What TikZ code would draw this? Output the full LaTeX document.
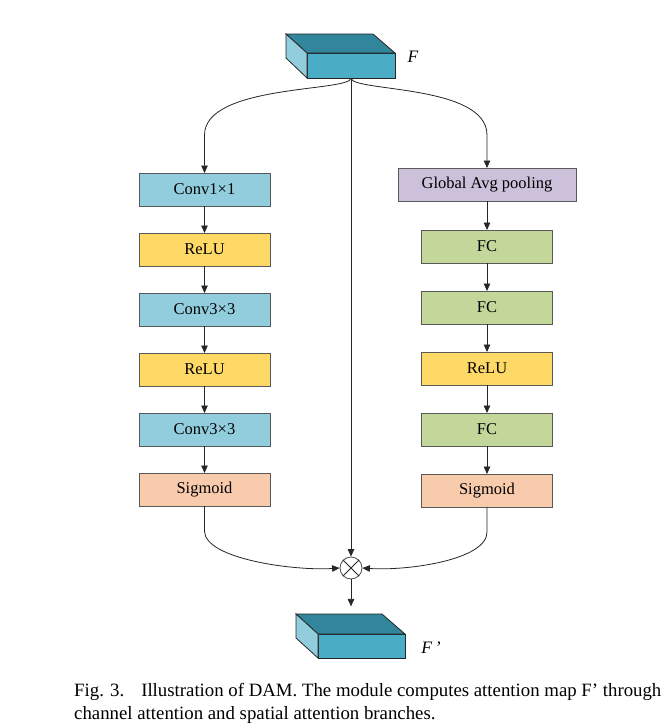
\documentclass[tikz,border=0pt]{standalone}
\usepackage{fontspec}
\setmainfont{Liberation Serif}
\usetikzlibrary{arrows.meta,positioning,calc}
\definecolor{convblue}{RGB}{146,205,221}
\definecolor{reluyellow}{RGB}{255,217,102}
\definecolor{sigpeach}{RGB}{248,203,173}
\definecolor{poolpurple}{RGB}{204,192,218}
\definecolor{fcgreen}{RGB}{196,215,155}
\definecolor{cubetop}{RGB}{49,134,155}
\definecolor{cubefront}{RGB}{75,172,198}
\definecolor{cubeside}{RGB}{146,205,221}
\definecolor{edgegray}{RGB}{89,89,89}
\tikzset{
  basebox/.style={rectangle,draw=edgegray,line width=1pt,align=center,font=\fontsize{16.5}{18}\selectfont,minimum width=131pt,minimum height=33pt,inner sep=0pt,outer sep=0pt},
  convnode/.style={basebox,fill=convblue},
  relunode/.style={basebox,fill=reluyellow},
  signode/.style={basebox,fill=sigpeach},
  poolnode/.style={basebox,fill=poolpurple,minimum width=178pt},
  fcnode/.style={basebox,fill=fcgreen},
  cubeface/.style={draw=black!85,line width=0.8pt,inner sep=0pt,outer sep=0pt},
  mulnode/.style={circle,draw=black!70,line width=0.8pt,fill=white,minimum size=22pt,inner sep=0pt},
  labnode/.style={font=\fontsize{17.5}{19}\selectfont\itshape,inner sep=0pt},
  capnode/.style={anchor=base west,inner sep=0pt,font=\fontsize{18.8}{23}\selectfont},
  arr/.style={->,>={Triangle[length=7.5pt,width=6.5pt]},line width=0.8pt,color=black!85},
  flow/.style={line width=0.8pt,color=black!85}
}

\begin{document}
\begin{tikzpicture}[x=1pt,y=1pt,node distance=27pt]
  \useasboundingbox (0,0) rectangle (668,-728);
  % input feature map
  \node[cubeface,fill=cubefront,minimum width=88pt,minimum height=25pt] (fin) at (351,-65.5) {};
  \draw[cubeface,fill=cubetop] (fin.north west) -- ++(-21,19) -- ++(87,0) -- (fin.north east) -- cycle;
  \draw[cubeface,fill=cubeside] (fin.north west) -- ++(-21,19) -- ++(0,-24) -- (fin.south west) -- cycle;
  \node[labnode] (lin) at (413,-57) {F};

  % spatial branch
  \node[convnode] (c1) at (204.5,-189.5) {Conv1×1};
  \node[relunode,below=of c1] (r1) {ReLU};
  \node[convnode,below=of r1] (c2) {Conv3×3};
  \node[relunode,below=of c2] (r2) {ReLU};
  \node[convnode,below=of r2] (c3) {Conv3×3};
  \node[signode,below=of c3] (s1) {Sigmoid};

  % channel branch
  \node[poolnode] (gap) at (487,-184.5) {Global Avg pooling};
  \node[fcnode,below=29pt of gap] (f1) {FC};
  \node[fcnode,below=28pt of f1] (f2) {FC};
  \node[relunode,below=28pt of f2] (r3) {ReLU};
  \node[fcnode,below=28pt of r3] (f3) {FC};
  \node[signode,below=28pt of f3] (s2) {Sigmoid};

  % fusion
  \node[mulnode] (mul) at (351,-568) {};
  \draw[flow] (mul.north west) -- (mul.south east);
  \draw[flow] (mul.north east) -- (mul.south west);

  % output feature map
  \node[cubeface,fill=cubefront,minimum width=87pt,minimum height=24pt] (fout) at (361.5,-646) {};
  \draw[cubeface,fill=cubetop] (fout.north west) -- ++(-22,20) -- ++(86,0) -- (fout.north east) -- cycle;
  \draw[cubeface,fill=cubeside] (fout.north west) -- ++(-22,20) -- ++(0,-24) -- (fout.south west) -- cycle;
  \node[labnode] (lout) at (431,-648) {F\,’};

  \foreach \a/\b in {c1/r1,r1/c2,c2/r2,r2/c3,c3/s1,gap/f1,f1/f2,f2/r3,r3/f3,f3/s2}
    \draw[arr] (\a) -- (\b);
  \draw[arr] (fin.south) -- (mul.north);
  \draw[arr] (fin.south) .. controls +(0,-14) and +(0,51) .. ($(c1.north)+(0,38)$) -- (c1.north);
  \draw[arr] (fin.south) .. controls +(0,-14) and +(0,51) .. ($(gap.north)+(0,33)$) -- (gap.north);
  \draw[arr] (s1.south) -- ++(0,-25) .. controls +(0,-28) and +(-45,-3) .. (mul.west);
  \draw[arr] (s2.south) -- ++(0,-25) .. controls +(0,-28) and +(45,-3) .. (mul.east);
  \draw[arr] (mul.south) -- ++(0,-27);

  % caption
  \node[capnode] (cap1) at (74,-696) {Fig. 3.\hspace{0.9em}Illustration of DAM. The module computes attention map F’ through};
  \node[capnode] (cap2) at (74,-719) {channel attention and spatial attention branches.};
\end{tikzpicture}
\end{document}
